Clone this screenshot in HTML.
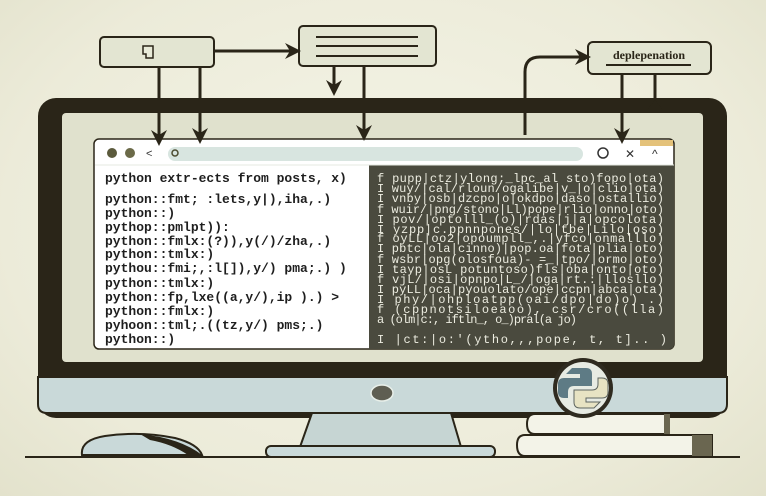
<!DOCTYPE html>
<html><head><meta charset="utf-8"><style>
html,body{margin:0;padding:0;width:766px;height:496px;overflow:hidden}
body{background:radial-gradient(ellipse at 50% 45%,#f5f5e8 0%,#ecebd9 70%,#e3e2cc 100%)}
svg{position:absolute;left:0;top:0}
</style></head><body>
<svg width="766" height="496" viewBox="0 0 766 496" xmlns="http://www.w3.org/2000/svg">
<defs>
<marker id="ah" markerWidth="16" markerHeight="16" refX="12" refY="8" orient="auto" markerUnits="userSpaceOnUse">
<path d="M0,0 L16,8 L0,16 L5,8 Z" fill="#2a2518"/></marker>
</defs>
<rect x="38" y="98" width="689" height="320" rx="18" fill="#2a2518"/>
<rect x="62" y="113" width="641" height="249" rx="4" fill="#e0e1cd"/>
<path d="M38,377 H727 V404 Q727,413 718,413 H47 Q38,413 38,404 Z" fill="#c9d9d9" stroke="#2a2518" stroke-width="2"/>
<ellipse cx="382" cy="393" rx="11" ry="8" fill="#5e5e52" stroke="#e8efe9" stroke-width="1.5"/>
<path d="M312,413 H451 L461,447 H300 Z" fill="#c6d5d3" stroke="#2a2518" stroke-width="2"/>
<rect x="266" y="446" width="229" height="11" rx="5" fill="#c9d9d9" stroke="#2a2518" stroke-width="2"/>
<line x1="25" y1="457" x2="740" y2="457" stroke="#2a2518" stroke-width="2"/>
<path d="M82,455 Q80,440 105,436 Q140,431 175,438 Q198,444 202,455 Z" fill="#c9d9d9" stroke="#2a2518" stroke-width="2"/>
<path d="M140,434 Q180,438 202,455 L188,455 Q172,444 150,440 Z" fill="#2a2518"/>
<path d="M535,414 H668 V434 H535 Q527,434 527,424 Q527,414 535,414 Z" fill="#f3f3e8" stroke="#2a2518" stroke-width="2"/>
<rect x="664" y="414" width="6" height="20" fill="#6a6650"/>
<path d="M525,435 H712 V456 H525 Q517,456 517,445 Q517,435 525,435 Z" fill="#f3f3e8" stroke="#2a2518" stroke-width="2"/>
<rect x="692" y="435" width="20" height="21" fill="#6a6650"/>
<circle cx="583" cy="388" r="30" fill="#2f2b20"/>
<circle cx="583" cy="388" r="26" fill="#e7ebe3"/>
<path d="M572,368 h14 q6,0 6,6 v12 h-18 q-6,0 -6,6 v6 h-4 q-6,0 -6,-6 v-8 q0,-6 6,-6 h16 v-4 h-14 z" fill="#5e7b85"/>
<path d="M594,408 h-14 q-6,0 -6,-6 v-12 h18 q6,0 6,-6 v-6 h4 q6,0 6,6 v8 q0,6 -6,6 h-16 v4 h14 z" fill="#e7e3c3" stroke="#5e6560" stroke-width="1"/>
<rect x="94" y="139" width="580" height="210" rx="5" fill="#ffffff" stroke="#2a2518" stroke-width="1.5"/>
<path d="M369,349 H669 Q674,349 674,344 V165 H369 Z" fill="#4a4a3e"/>
<rect x="640" y="140" width="33" height="6" fill="#e4c27a"/>
<circle cx="112" cy="153" r="5" fill="#5b5a3c"/>
<circle cx="130" cy="153" r="5" fill="#6b6a48"/>
<text x="146" y="157" font-family="Liberation Sans,sans-serif" font-size="11" fill="#333">&lt;</text>
<rect x="168" y="147" width="415" height="14" rx="7" fill="#d8e5e0"/>
<circle cx="175" cy="153" r="3" fill="none" stroke="#4c4c30" stroke-width="1.5"/>
<circle cx="603" cy="153" r="5" fill="none" stroke="#333" stroke-width="1.5"/>
<text x="625" y="158" font-family="Liberation Sans,sans-serif" font-size="12" fill="#333">✕</text>
<text x="652" y="158" font-family="Liberation Sans,sans-serif" font-size="12" fill="#333">^</text>
<line x1="95" y1="165" x2="674" y2="165" stroke="#e6e9e1" stroke-width="1"/>
<g font-family="Liberation Mono,monospace" font-weight="bold" font-size="13" fill="#1e1e1e">
<text x="105" y="182">python extr-ects from posts, x)</text>
<text x="105" y="203">python::fmt; :lets,y|),iha,.)</text>
<text x="105" y="217">python::)</text>
<text x="105" y="231">pythop::pmlpt)):</text>
<text x="105" y="245">python::fmlx:(?)),y(/)/zha,.)</text>
<text x="105" y="258">python::tmlx:)</text>
<text x="105" y="272">pythou::fmi;,:l[]),y/) pma;.) )</text>
<text x="105" y="287">python::tmlx:)</text>
<text x="105" y="301">python::fp,lxe((a,y/),ip ).) &gt;</text>
<text x="105" y="315">python::fmlx:)</text>
<text x="105" y="329">pyhoon::tml;.((tz,y/) pms;.)</text>
<text x="105" y="343">python::)</text>
</g>
<g font-family="Liberation Mono,monospace" font-size="12" fill="#ecece0">
<text x="377" y="182" textLength="287">f pupp|ctz|ylong;_lpc_al sto)fopo|ota)</text>
<text x="377" y="192" textLength="287">I wuy/|cal/rloun/ogalibe|v_|o|clio|ota)</text>
<text x="377" y="202" textLength="287">I vnby|osb|dzcpo|o|okdpo|daso|ostallio)</text>
<text x="377" y="213" textLength="287">f wuir/|png/stono|Ll)pope|rlio|onno|oto)</text>
<text x="377" y="223" textLength="287">I pov/|optolll_(o)|rdas|j|a|opcolota)</text>
<text x="377" y="233" textLength="287">I yzpp|c.ppnnpones/|lo|tbe|Lilo|oso)</text>
<text x="377" y="242" textLength="287">f oyLL|oo2|opoumpll_,.|yfco|onmalllo)</text>
<text x="377" y="252" textLength="287">I pbtc|ola|cinno)|pop.oa|fota|plia|oto)</text>
<text x="377" y="263" textLength="287">f wsbr|opg(olosfoua)- =_|tpo/|ormo|oto)</text>
<text x="377" y="273" textLength="287">I tayp|osL potuntoso)fls|oba|onto|oto)</text>
<text x="377" y="283" textLength="287">f vjL/|osi|opnpo|L_/|oga|rt.:|llosllo)</text>
<text x="377" y="293" textLength="287">I pyLL|oca|pyouolato/ope|ccpn|abca|ota)</text>
<text x="377" y="303" textLength="287">I phy/|ohploatpp(oai/dpo|do)o)     .)</text>
<text x="377" y="313" textLength="287">f (cppnotsiloeaoo),       csr/cro((lla)</text>
<text x="377" y="323" textLength="200">a (olm|c:, iftln_, o_)pral(a jo)</text>
<text x="377" y="343" textLength="290">I |ct:|o:'(ytho,,,pope, t, t]..        )</text>
</g>
<rect x="100" y="37" width="114" height="30" rx="4" fill="#e3e5d2" stroke="#2a2518" stroke-width="2"/>
<path d="M143,46 h10 v12 h-7 v-4 h-3 z" fill="#e8ead8" stroke="#2a2518" stroke-width="1.5"/>
<rect x="299" y="26" width="137" height="40" rx="4" fill="#e3e5d2" stroke="#2a2518" stroke-width="2"/>
<line x1="316" y1="37" x2="418" y2="37" stroke="#2a2518" stroke-width="2"/>
<line x1="316" y1="46" x2="418" y2="46" stroke="#2a2518" stroke-width="2"/>
<line x1="316" y1="56" x2="418" y2="56" stroke="#2a2518" stroke-width="2"/>
<rect x="588" y="42" width="123" height="32" rx="5" fill="#e3e5d2" stroke="#2a2518" stroke-width="2"/>
<text x="649" y="59" text-anchor="middle" font-family="Liberation Serif,serif" font-weight="bold" font-size="12" fill="#2a2518">deplepenation</text>
<line x1="606" y1="65" x2="691" y2="65" stroke="#2a2518" stroke-width="2"/>
<g stroke="#2a2518" stroke-width="3" fill="none" marker-end="url(#ah)">
<line x1="214" y1="51" x2="297" y2="51"/>
<line x1="159" y1="67" x2="159" y2="142"/>
<line x1="200" y1="67" x2="200" y2="140"/>
<line x1="334" y1="66" x2="334" y2="92"/>
<line x1="364" y1="66" x2="364" y2="137"/>
<path d="M525,135 V72 Q525,57 540,57 H587"/>
<line x1="622" y1="74" x2="622" y2="140"/>
</g>
<line x1="655" y1="74" x2="655" y2="106" stroke="#2a2518" stroke-width="3"/>
<path d="M647,110 L655,100 L663,110 Z" fill="#2a2518"/>
</svg>
</body></html>
